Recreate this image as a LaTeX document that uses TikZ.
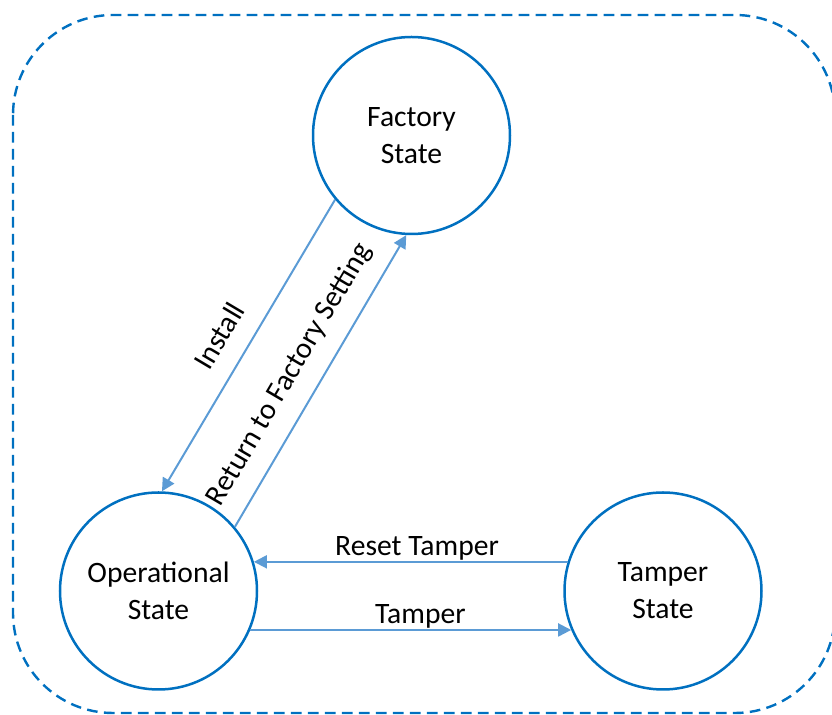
\documentclass[tikz,border=0pt]{standalone}
\usepackage{fontspec}
\setmainfont{Carlito}
\usetikzlibrary{arrows.meta}
\definecolor{bleu}{HTML}{0070C0}
\definecolor{bleuclair}{HTML}{5B9BD5}
\begin{document}
\begin{tikzpicture}[x=0.5pt, y=-0.5pt]
\tikzset{etat/.style={draw=bleu, line width=1.25pt, circle, minimum size=98.5pt, align=center, font=\fontsize{14.8}{18.5}\selectfont}}
\tikzset{fleche/.style={draw=bleuclair, line width=1pt, -{Triangle[length=6.5pt, width=6.5pt]}}}
\tikzset{etiq/.style={inner sep=0.5pt, font=\fontsize{14.8}{18.5}\selectfont}}
\useasboundingbox (0,0) rectangle (832,715);
\draw[bleu, line width=1.2pt, dash pattern=on 5.3pt off 3.2pt, rounded corners=50pt] (13,15) rectangle (835,713);
\node[etat] (Fac) at (411.5,135.5) {Factory\\State};
\node[etat] (Ope) at (158.5,591) {Operational\\State};
\node[etat] (Tam) at (663,591) {Tamper\\State};
\draw[fleche] (Fac.220) -- node[etiq, pos=0.52, sloped, above=9pt] {Install} (Ope.88);
\draw[fleche] (Ope.40) -- node[etiq, pos=0.47, sloped, above=7.5pt] {Return to Factory Setting} (Fac.267);
\draw[fleche] (Tam.163) -- node[etiq, pos=0.48, above] {Reset Tamper} (Ope.17);
\draw[fleche] (Ope.-23) -- node[etiq, pos=0.53, above] {Tamper} (Tam.203);
\end{tikzpicture}
\end{document}
